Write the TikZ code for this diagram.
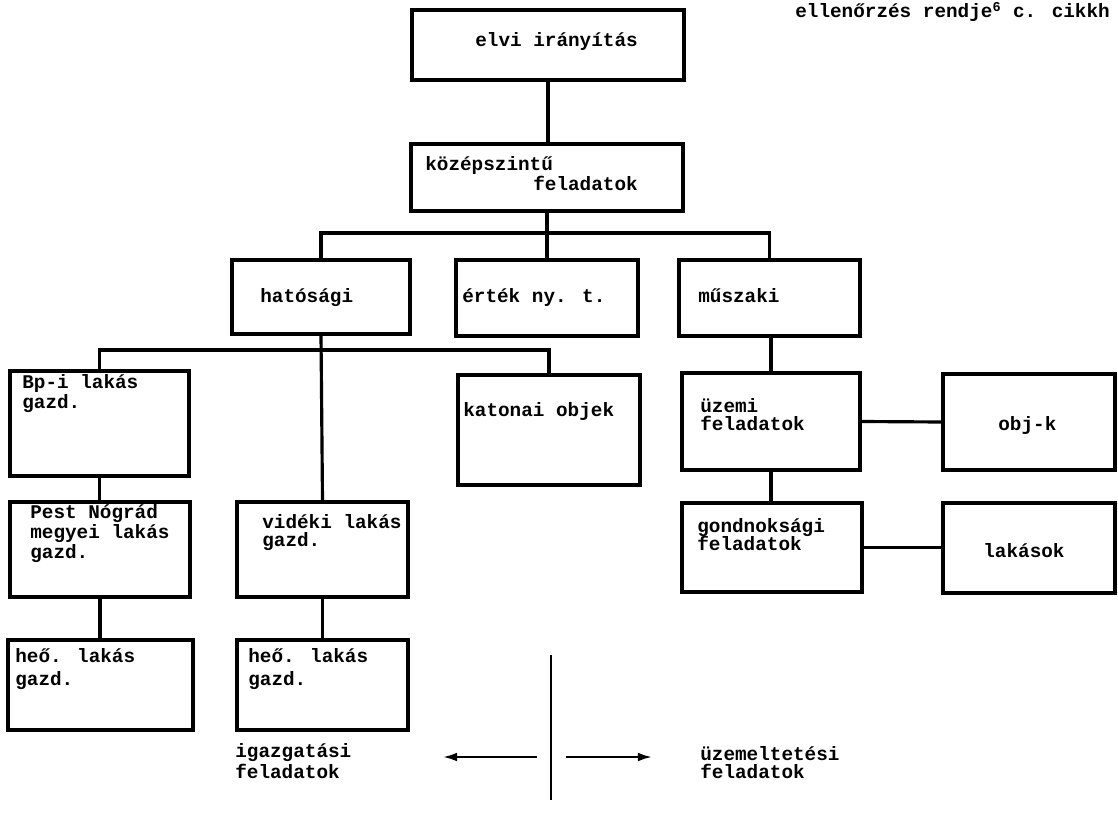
\documentclass[tikz,border=0pt]{standalone}
\usepackage{fontspec}
\usetikzlibrary{arrows.meta}
\newfontfamily\typewr{Liberation Mono}
\newcommand\tw{\typewr\bfseries\fontsize{11}{10.2}\selectfont}
\newcommand\bbox[5]{\node[box, minimum width={(#4-#2)*0.02cm}, minimum height={(#5-#3)*0.02cm}] (#1) at ({(#2+#4)/2},{(#3+#5)/2}) {};}

\begin{document}
\begin{tikzpicture}[x=0.02cm, y=-0.02cm,
  box/.style={draw, line width=1.8pt, inner sep=0pt},
  txt/.style={anchor=base west, inner sep=0pt, align=left, font=\tw},
  link/.style={line width=1.8pt},
  arr/.style={line width=1.3pt, -{Latex[length=8pt,width=5pt]}}]
  \useasboundingbox (0,0) rectangle (1118,814);

  \bbox{elvi}{412}{10}{684}{80}
  \bbox{kozep}{411}{144}{683}{211}
  \bbox{hatosagi}{232}{260}{410}{334}
  \bbox{ertek}{456}{260}{638}{336}
  \bbox{muszaki}{679}{260}{860}{336}
  \bbox{bpi}{10}{371}{189}{476}
  \bbox{katonai}{458}{375}{640}{485}
  \bbox{uzemi}{682}{373}{860}{470}
  \bbox{objk}{943}{374}{1115}{470}
  \bbox{pest}{10}{502}{190}{597}
  \bbox{videki}{237}{502}{408}{597}
  \bbox{gondnok}{682}{503}{862}{592}
  \bbox{lakasok}{943}{503}{1115}{593}
  \bbox{heo1}{8}{640}{193}{730}
  \bbox{heo2}{237}{640}{408}{730}

  \node[txt] (cikk) at (795,18) {ellenőrzés rendje\textsuperscript{6} c. cikkh};
  \node[txt] (elvi-t) at (475,47) {elvi irányítás};
  \node[txt] (kozep-t) at (425,191) {középszintű\\\hspace*{2.16cm}feladatok};
  \node[txt] (hatosagi-t) at (260,302) {hatósági};
  \node[txt] (ertek-t) at (462,302) {érték ny. t.};
  \node[txt] (muszaki-t) at (698,302) {műszaki};
  \node[txt] (bpi-t) at (22,408) {Bp-i lakás\\gazd.};
  \node[txt] (katonai-t) at (463,416) {katonai objek};
  \node[txt] (uzemi-t) at (700,430) {üzemi\\feladatok};
  \node[txt] (objk-t) at (998,430) {obj-k};
  \node[txt] (pest-t) at (30,558) {Pest Nógrád\\megyei lakás\\gazd.};
  \node[txt] (videki-t) at (262,546) {vidéki lakás\\gazd.};
  \node[txt] (gondnok-t) at (697,550) {gondnoksági\\[-1.7pt]feladatok};
  \node[txt] (lakasok-t) at (983,557) {lakások};
  \node[txt] (heo1-t) at (15,685) {heő. lakás\\[2.8pt]gazd.};
  \node[txt] (heo2-t) at (248,685) {heő. lakás\\[2.8pt]gazd.};
  \node[txt] (igazg-t) at (235,778) {igazgatási\\feladatok};
  \node[txt] (uzemelt-t) at (700,778) {üzemeltetési\\feladatok};

  \coordinate (bar1) at (548,233);
  \coordinate (bar2) at (325,350);
  \coordinate (divtop) at (551,655);
  \coordinate (divbot) at (551,800);
  \coordinate (igazg) at (443,757);
  \coordinate (uzemelt) at (652,757);

  \draw[link] (elvi.south) -- (elvi.south |- kozep.north);
  \draw[link] (kozep.south) -- (kozep.south |- ertek.north);
  \draw[link] (hatosagi.north) |- (bar1) -| (muszaki.north);
  \draw[link] (bpi.north) |- (bar2) -| (katonai.north);
  \draw[link] (hatosagi.south) -- (videki.north);
  \draw[link] (bpi.south) -- (bpi.south |- pest.north);
  \draw[link] (pest.south) -- (pest.south |- heo1.north);
  \draw[link] (videki.south) -- (heo2.north);
  \draw[link] (uzemi.north |- muszaki.south) -- (uzemi.north);
  \draw[link] (uzemi.south) -- (uzemi.south |- gondnok.north);
  \draw[link] (uzemi.east) -- (objk.west);
  \draw[link] (gondnok.east) -- (gondnok.east -| lakasok.west);
  \draw[line width=1.3pt] (divtop) -- (divbot);
  \draw[arr] (divtop |- igazg) ++(-14,0) -- (igazg);
  \draw[arr] (divtop |- uzemelt) ++(15,0) -- (uzemelt);
\end{tikzpicture}
\end{document}
